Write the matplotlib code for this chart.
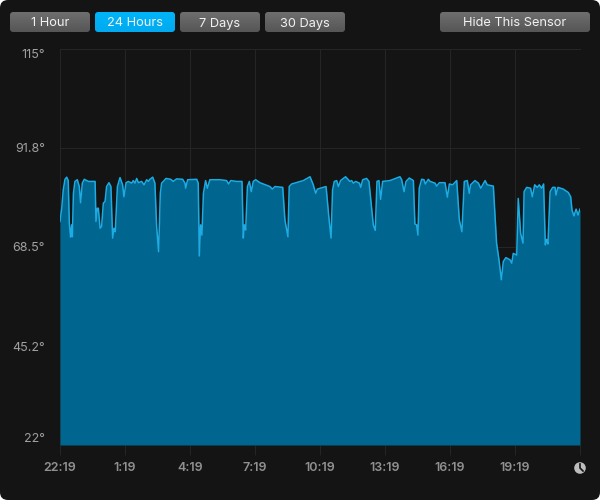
import matplotlib
matplotlib.use('Agg')
import matplotlib.pyplot as plt
import numpy as np
from matplotlib.colors import LinearSegmentedColormap
from matplotlib.patches import FancyBboxPatch, Circle

hours = [0, .08, .15, .23, .31, .38, .43, .49, .54, .57, .62, .69, .8, .89, .95, 1.03, 1.12, 1.31, 1.62, 1.66,
         1.72, 1.77, 1.85, 1.92, 2.0, 2.08, 2.15, 2.26, 2.35, 2.43, 2.49, 2.55, 2.65, 2.77, 2.89, 2.95, 3.05, 3.15, 3.31, 3.38,
         3.46, 3.54, 3.62, 3.77, 3.88, 4.0, 4.08, 4.15, 4.28, 4.38, 4.46, 4.55, 4.63, 4.69, 4.77, 4.89, 5.11, 5.23, 5.38, 5.66,
         5.77, 5.8, 5.89, 6.31, 6.38, 6.43, 6.49, 6.55, 6.62, 6.72, 6.8, 6.92, 7.23,
         7.38, 7.69, 7.78, 7.88, 8.15, 8.4, 8.46, 8.51, 8.57, 8.65, 8.74, 8.83, 8.92, 9.03, 9.23, 9.69, 9.8, 9.92, 10.28, 10.38,
         10.52, 10.58, 10.69, 11.23, 11.54, 11.69, 11.8, 11.88, 12.28, 12.42, 12.51, 12.58, 12.66, 12.77, 12.85, 12.95, 13.18,
         13.38, 13.46, 13.54, 13.65, 13.82, 13.88, 13.97, 14.15, 14.26, 14.46, 14.55, 14.63, 14.72, 14.8, 14.89, 15.23,
         15.69, 15.77, 15.88, 15.97, 16.12, 16.31, 16.38, 16.46, 16.52, 16.58, 16.69, 16.8, 16.86, 17.0, 17.08, 17.31, 17.38,
         17.51, 17.77, 17.88, 17.97, 18.12, 18.31, 18.43, 18.55, 18.66, 18.8, 18.89, 18.95, 19.15, 19.31, 19.42, 19.62, 19.72,
         20.0, 20.15, 20.26, 20.37, 20.46, 20.58, 20.77, 20.85, 20.92, 21.08, 21.15, 21.26, 21.37, 21.42, 21.54, 21.72, 21.8,
         21.91, 22.03, 22.12, 22.23, 22.32, 22.4, 22.46, 22.52, 22.62, 22.74, 22.85, 22.89, 22.98, 23.23, 23.46, 23.57, 23.63,
         23.72, 23.82, 23.91, 24.0]
temps = [74.5, 77.6, 81.9, 84.4, 84.9, 84.1, 74.1, 70.8, 73.7, 70.9, 81.1, 83.9, 84.3, 82.7, 78.9, 83.5, 84.4, 83.9, 83.9, 74.5,
         77.6, 77.6, 72.9, 73.3, 78.8, 79.2, 82.7, 83.6, 82.7, 70.6, 72.9, 72.1, 82.7, 84.8, 83.1, 80.3, 83.6, 83.9, 83.5, 84.1,
         83.5, 84.6, 83.6, 83.9, 83.1, 84.3, 83.9, 84.4, 84.9, 83.5, 73.3, 67.4, 81.1, 83.5, 83.9, 84.6, 84.4, 83.9, 84.5, 84.4,
         83.5, 82.3, 84.3, 84.4, 83.5, 66.4, 73.7, 71.3, 81.1, 84.1, 82.3, 84.3, 84.3,
         84.3, 84.1, 83.3, 84.1, 83.9, 83.9, 70.6, 73.7, 72.5, 82.7, 83.9, 81.5, 83.9, 84.3, 83.6, 82.7, 82.1, 82.7, 82.5, 74.9,
         70.9, 82.7, 83.3, 84.1, 85.0, 83.1, 81.1, 82.1, 82.7, 74.9, 70.6, 81.9, 83.9, 84.1, 82.7, 84.1,
         85.0, 83.9, 84.1, 83.5, 83.9, 83.5, 82.5, 84.3, 84.6, 83.9, 73.7, 72.4, 83.9, 84.1, 79.7, 83.9, 84.1,
         85.0, 84.3, 81.5, 83.9, 84.7, 84.1, 73.9, 73.7, 71.3, 82.3, 84.4, 84.3, 83.3, 84.4, 83.9, 83.5, 82.8,
         83.6, 83.6, 80.2, 83.3, 83.1, 84.1, 74.9, 72.1, 83.9, 84.1, 81.1, 83.1, 84.1, 83.5, 82.3, 84.1, 83.1,
         82.8, 69.4, 65.5, 60.8, 65.1, 66.0, 65.5, 64.7, 67.0, 66.6, 79.9, 71.7, 69.4, 81.5, 82.5, 82.3, 80.3,
         83.1, 82.5, 83.1, 82.3, 83.3, 69.0, 70.3, 69.2, 81.5, 82.5, 82.5, 80.7, 82.5, 82.1, 81.3, 80.3, 77.2,
         75.8, 77.4, 76.0, 77.4]

y_ticks = [22, 45.2, 68.5, 91.8, 115]
y_labels = ['22°', '45.2°', '68.5°', '91.8°', '115°']
x_ticks = [0, 3, 6, 9, 12, 15, 18, 21, 24]
x_labels = ['22:19', '1:19', '4:19', '7:19', '10:19', '13:19', '16:19', '19:19', '']
buttons = ['1 Hour', '24 Hours', '7 Days', '30 Days', 'Hide This Sensor']
button_left = [10, 95, 180, 265, 440]
button_width = [80, 80, 80, 80, 150]

plt.rcParams['font.family'] = ['Inter', 'DejaVu Sans']

fig = plt.figure(figsize=(6, 5), dpi=100, facecolor='white')

# window background and buttons, in pixels
bg = fig.add_axes([0, 0, 1, 1], zorder=0)
bg.axis('off')
bg.add_patch(FancyBboxPatch((6, 6), 588, 488, boxstyle='round,pad=6,rounding_size=8', fc='#141414', ec='none', zorder=1))

grad = np.linspace(0, 1, 20).reshape(-1, 1)
for name, left, w in zip(buttons, button_left, button_width):
    patch = FancyBboxPatch((left + 3, 15), w - 6, 14, boxstyle='round,pad=3,rounding_size=3', fc='none', ec='none')
    bg.add_patch(patch)
    if name == '24 Hours':
        cmap = LinearSegmentedColormap.from_list('b', ['#00b4f8', '#00aaf0'])
    else:
        cmap = LinearSegmentedColormap.from_list('g', ['#6e6e6e', '#565656'])
    im = bg.imshow(grad, extent=[left, left + w, 32, 12], cmap=cmap, aspect='auto', zorder=2)
    im.set_clip_path(patch)
    bg.text(left + w / 2, 22, name, color='#f2f2f2', fontsize=9.2, ha='center', va='center_baseline', zorder=3)
bg.set_xlim(0, 600)
bg.set_ylim(500, 0)

ax = fig.add_axes([60 / 600, 55 / 500, 520 / 600, 396 / 500], zorder=1)
ax.patch.set_alpha(0)
ax.set_xlim(0, 24)
ax.set_ylim(22, 115)
ax.fill_between(hours, temps, 22, color='#00668f', lw=0, zorder=2)
ax.plot(hours, temps, color='#1cabe2', lw=1.1, zorder=3)

ax.set_xticks(x_ticks)
ax.set_xticklabels(x_labels, color='#909090', fontsize=9, fontweight='semibold')
ax.set_yticks(y_ticks)
ax.set_yticklabels(y_labels, color='#a0a0a0', fontsize=9)
ax.tick_params(axis='x', length=7.5, width=0.7, color='#262626', pad=4.5)
ax.tick_params(axis='y', length=0, pad=11)
labels = ax.get_yticklabels()
labels[0].set_va('bottom')
labels[-1].set_va('top')
ax.grid(True, color='#262626', lw=0.7, zorder=1)
ax.set_axisbelow(True)
for s in ['left', 'bottom', 'right']:
    ax.spines[s].set_visible(False)
ax.spines['top'].set_color('#262626')
ax.spines['top'].set_linewidth(0.7)

# clock icon at the end of the time axis
top = fig.add_axes([0, 0, 1, 1], zorder=2)
top.set_xlim(0, 600)
top.set_ylim(500, 0)
top.axis('off')
top.add_patch(Circle((580, 468), 5.8, fc='#bdbdbd', ec='none'))
top.plot([580, 580, 583], [464, 468, 471], color='#141414', lw=1.2)

fig.savefig('out.png', dpi=100, facecolor='white')
